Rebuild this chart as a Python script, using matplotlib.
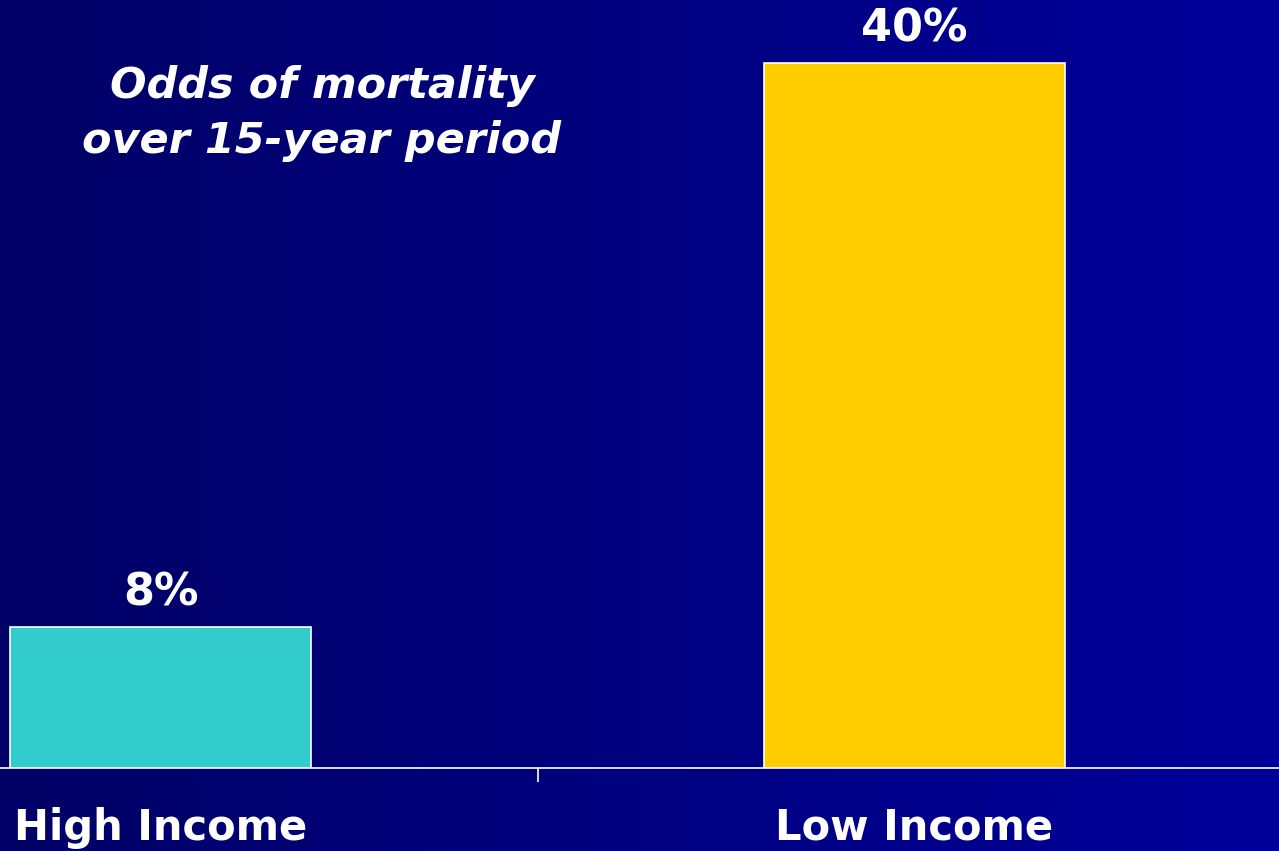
import numpy as np
import matplotlib
matplotlib.use('Agg')
import matplotlib.pyplot as plt
from matplotlib.colors import LinearSegmentedColormap

categories = ['High Income', 'Low Income']
odds = [8, 40]
bar_colors = ['#33CCCC', '#FFCC00']
value_labels = ['8%', '40%']
title_text = 'Odds of mortality\nover 15-year period'

W, H = 1279, 851
fig = plt.figure(figsize=(W / 100, H / 100), dpi=100)

# background gradient, dark navy left to brighter blue right
bg = fig.add_axes([0, 0, 1, 1])
grad = np.linspace(0, 1, 256).reshape(1, -1)
cmap = LinearSegmentedColormap.from_list('bg', ['#000066', '#00009A'])
bg.imshow(grad, aspect='auto', cmap=cmap, extent=[0, 1, 0, 1])
bg.set_axis_off()

# pixel geometry of the plot area
base_px = 768          # baseline from top
px_per_unit = 705 / 40
px_per_cat = 754
x0_px = 160.5          # centre of first bar

ax = fig.add_axes([0, (H - base_px) / H, 1, base_px / H])
ax.patch.set_alpha(0)
x = np.arange(len(categories))
ax.bar(x, odds, width=301 / px_per_cat, color=bar_colors,
       edgecolor='white', linewidth=1.2, zorder=3)
ax.set_xlim(-x0_px / px_per_cat, (W - x0_px) / px_per_cat)
ax.set_ylim(0, base_px / px_per_unit)

for xi, v, lab in zip(x, odds, value_labels):
    ax.text(xi, v + 21 / px_per_unit, lab, ha='center', va='baseline',
            color='white', fontsize=32, fontweight='bold',
            family='DejaVu Sans')

for sp in ['top', 'right', 'left']:
    ax.spines[sp].set_visible(False)
ax.spines['bottom'].set_color('white')
ax.spines['bottom'].set_linewidth(1.2)
ax.set_yticks([])
ax.set_xticks([0.5])
ax.set_xticklabels([])
ax.tick_params(axis='x', direction='out', length=10, width=1.2, color='white')

for xi, cat in zip(x, categories):
    ax.text(xi, -72 / px_per_unit, cat, ha='center', va='baseline',
            color='white', fontsize=30, fontweight='bold',
            family='DejaVu Sans', clip_on=False)

fig.text(322 / W, 1 - 153 / H, title_text, ha='center', va='baseline',
         color='white', fontsize=31, fontweight='bold', fontstyle='italic',
         family='DejaVu Sans', linespacing=1.4, multialignment='center')

fig.savefig('out.png', dpi=100)
